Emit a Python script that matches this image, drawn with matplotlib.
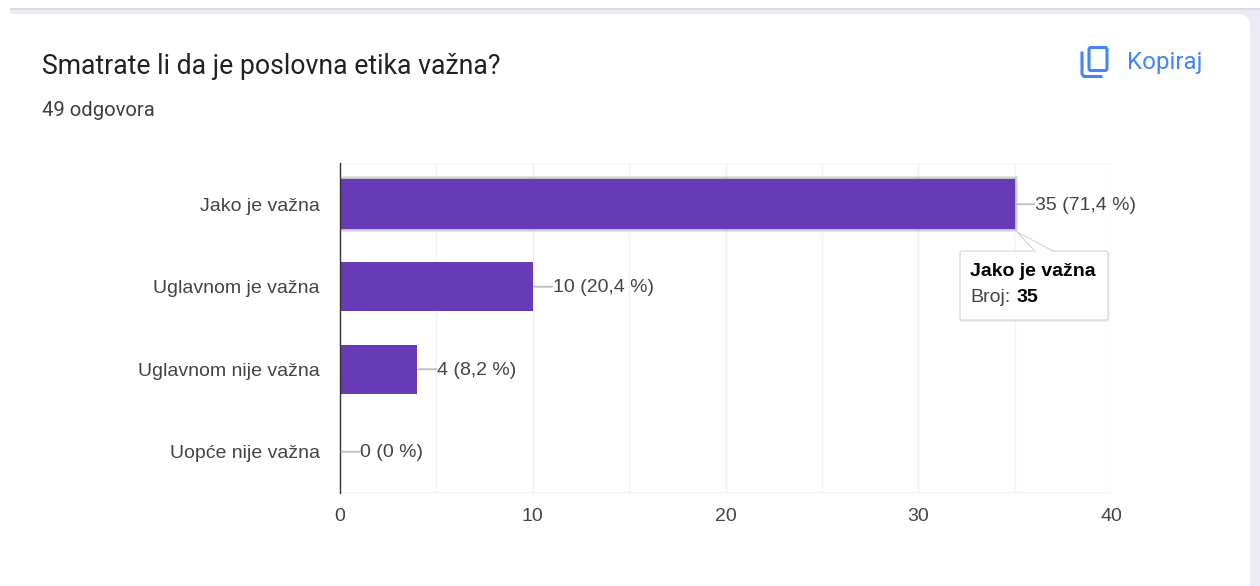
import matplotlib
matplotlib.use('Agg')
import matplotlib.pyplot as plt
from matplotlib.patches import FancyBboxPatch, Polygon, Rectangle
from matplotlib.lines import Line2D

# Data
categories = ['Jako je važna', 'Uglavnom je važna', 'Uglavnom nije važna', 'Uopće nije važna']
counts = [35, 10, 4, 0]
value_labels = ['35 (71,4 %)', '10 (20,4 %)', '4 (8,2 %)', '0 (0 %)']
x_ticks = [0, 10, 20, 30, 40]
x_minor = [5, 15, 25, 35]
title = 'Smatrate li da je poslovna etika važna?'
subtitle = '49 odgovora'
copy_label = 'Kopiraj'
tooltip_title = 'Jako je važna'
tooltip_key = 'Broj:'
tooltip_value = '35'

W, H = 1260, 586
PURPLE = '#673ab7'
BLUE = '#4285f4'
TEXT = '#444444'
CHART_FS = 14

fig = plt.figure(figsize=(W / 100, H / 100), dpi=100, facecolor='white')

# Page background in pixel coordinates
bg = fig.add_axes([0, 0, 1, 1], zorder=0)
bg.set_xlim(0, W)
bg.set_ylim(H, 0)
bg.axis('off')
bg.add_patch(Rectangle((10, 8), W - 10, H, fc='#ede9f6', ec='none'))
bg.add_patch(Rectangle((10, 8), W - 10, 2, fc='#dcd9e6', ec='none'))
bg.add_patch(Rectangle((0, 14), 100, H, fc='white', ec='none'))
bg.add_patch(FancyBboxPatch((10, 14), 1240, 700, boxstyle='round,pad=0,rounding_size=12',
                            fc='white', ec='none'))
bg.add_patch(Rectangle((10, 14), 30, 30, fc='white', ec='none'))
bg.text(42, 66, title, family='Roboto', fontsize=19.2, color='#202124', va='center', ha='left')
bg.text(42, 111, subtitle, family='Roboto', fontsize=14.6, color='#3c4043', va='center', ha='left')
bg.text(1127, 62, copy_label, family='Roboto', fontsize=17.4, color=BLUE, va='center', ha='left')

# Copy icon
bg.add_patch(FancyBboxPatch((1089, 47.5), 18, 23, boxstyle='round,pad=0,rounding_size=2',
                            fc='none', ec=BLUE, lw=2.2))
bg.add_line(Line2D([1082, 1082, 1084, 1101], [53, 74, 76.5, 76.5], color=BLUE, lw=2.2))

# Chart
ax = fig.add_axes([340 / W, 1 - 493 / H, (1111 - 340) / W, (493 - 163) / H], zorder=1)
ax.patch.set_alpha(0)
ypos = list(range(len(categories)))
ax.set_xlim(0, 40)
ax.set_ylim(len(categories) - 0.5, -0.5)
ax.set_axisbelow(True)
for x in x_ticks + x_minor:
    if x > 0:
        ax.axvline(x, color='#efefef' if x in x_ticks else '#f4f4f4', lw=1, zorder=0)
ax.axhline(-0.5, color='#f6f6f6', lw=1, zorder=0)
ax.axhline(len(categories) - 0.5, color='#eeeeee', lw=1.2, zorder=0)

# Soft shadow behind the hovered bar, then the bars
for extra_h, extra_w in [(0.08, 0.16), (0.055, 0.1), (0.03, 0.05)]:
    ax.barh(ypos[0], counts[0] + extra_w, height=0.6 + extra_h, color='#999999', alpha=0.25, zorder=1)
ax.barh(ypos, counts, height=0.6, color=PURPLE, zorder=2)

for y, c, lab in zip(ypos, counts, value_labels):
    ax.annotate('', xy=(c, y), xytext=(14, 0), textcoords='offset points',
                arrowprops=dict(arrowstyle='-', color='#bbbbbb', lw=1.3, shrinkA=0, shrinkB=1))
    ax.annotate(lab, xy=(c, y), xytext=(14.5, -0.8), textcoords='offset points', va='center', ha='left',
                family='Liberation Sans', fontsize=CHART_FS, color=TEXT)

ax.set_xticks(x_ticks)
ax.set_yticks(ypos)
ax.set_yticklabels(categories, family='Liberation Sans', fontsize=CHART_FS, color=TEXT)
ax.tick_params(axis='y', length=0, pad=14.6)
ax.tick_params(axis='x', length=0, pad=11, labelsize=CHART_FS, labelcolor=TEXT)
for lab in ax.get_xticklabels():
    lab.set_family('Liberation Sans')
for side in ['top', 'right', 'bottom']:
    ax.spines[side].set_visible(False)
ax.spines['left'].set_color('#333333')
ax.spines['left'].set_linewidth(1.0)

# Tooltip in pixel coordinates, above the chart
tip = fig.add_axes([0, 0, 1, 1], zorder=2)
tip.set_xlim(0, W)
tip.set_ylim(H, 0)
tip.axis('off')
tip.patch.set_alpha(0)
tip.add_patch(FancyBboxPatch((960, 252), 149.5, 70, boxstyle='round,pad=0,rounding_size=2',
                             fc='#dddddd', ec='none', alpha=0.5))
tip.add_patch(FancyBboxPatch((960, 251), 148, 69, boxstyle='round,pad=0,rounding_size=2',
                             fc='white', ec='#d4d4d4', lw=0.8))
tip.add_patch(Polygon([(1017, 232), (1035, 252), (1053, 252)], closed=True, fc='white', ec='none'))
tip.add_line(Line2D([1035, 1017, 1053], [251, 232, 251], color='#d4d4d4', lw=0.8))
tip.text(970, 271.5, tooltip_title, family='Liberation Sans', fontsize=CHART_FS, fontweight='bold',
         color='black', va='center', ha='left')
tip.text(970, 297, tooltip_key, family='Liberation Sans', fontsize=CHART_FS, color=TEXT, va='center', ha='left')
tip.text(1017, 297, tooltip_value, family='Liberation Sans', fontsize=CHART_FS, fontweight='bold',
         color='black', va='center', ha='left')

fig.savefig('out.png', dpi=100)
